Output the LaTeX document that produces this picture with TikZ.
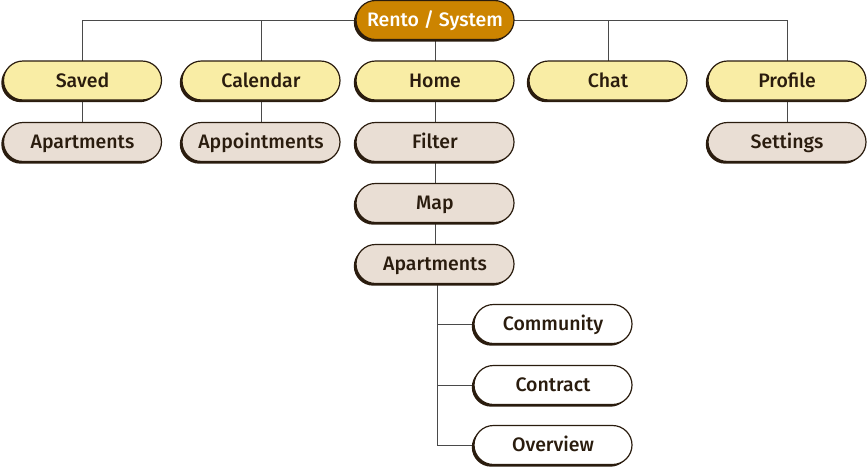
\documentclass[tikz,border=0pt]{standalone}
\usepackage{fontspec}
\IfFontExistsTF{Fira Sans Medium}{\setmainfont{Fira Sans Medium}}{\setmainfont{Fira Sans}}
\usetikzlibrary{shadows}
\definecolor{rootc}{HTML}{CC8400}
\definecolor{yel}{HTML}{F9EDA5}
\definecolor{beige}{HTML}{E9DED4}
\definecolor{edge}{HTML}{2A1C0E}
\definecolor{txt}{HTML}{2A1C0E}
\definecolor{wire}{HTML}{4A4A4A}
\tikzset{
  pill/.style={draw=edge, line width=1.2pt, rounded corners=19.5pt,
    minimum width=158pt, minimum height=39pt, inner sep=0pt,
    text height=17pt, text depth=3.6pt,
    font=\fontsize{19.5}{22}\selectfont, text=txt,
    drop shadow={shadow xshift=-2.2pt, shadow yshift=-2.2pt, opacity=1, fill=edge}},
  rootbox/.style={pill, fill=rootc, text=white},
  topbox/.style={pill, fill=yel},
  subbox/.style={pill, fill=beige},
  leafbox/.style={pill, fill=white},
  wireline/.style={draw=wire, line width=0.9pt}
}
\begin{document}
\begin{tikzpicture}[x=1pt,y=-1pt]
\useasboundingbox (0,0) rectangle (868,469);
% connectors first
\coordinate (L) at (82.5,20);
\coordinate (R) at (787,20);
\coordinate (cal) at (261,20);
\coordinate (cht) at (608,20);
\draw[wireline] (L) -- (R);
\draw[wireline] (L) -- (82.5,80.5);
\draw[wireline] (cal) -- (261,80.5);
\draw[wireline] (cht) -- (608,80.5);
\draw[wireline] (R) -- (787,80.5);
\draw[wireline] (82.5,80.5) -- (82.5,142);
\draw[wireline] (261,80.5) -- (261,142);
\draw[wireline] (787,80.5) -- (787,142);
\draw[wireline] (435,20) -- (435,264);
\coordinate (T) at (437,264);
\coordinate (B) at (437,445);
\draw[wireline] (T) -- (B);
\draw[wireline] (437,324) -- (553,324);
\draw[wireline] (437,385) -- (553,385);
\draw[wireline] (B) -- (553,445);
% nodes
\node[rootbox] (root) at (435,20) {Rento / System};
\node[topbox] (saved) at (82.5,80.5) {Saved};
\node[topbox] (calendar) at (261,80.5) {Calendar};
\node[topbox] (home) at (435,80.5) {Home};
\node[topbox] (chat) at (608,80.5) {Chat};
\node[topbox] (profile) at (787,80.5) {Profile};
\node[subbox] (apt1) at (82.5,142) {Apartments};
\node[subbox] (appt) at (261,142) {Appointments};
\node[subbox] (filter) at (435,142) {Filter};
\node[subbox] (settings) at (787,142) {Settings};
\node[subbox] (map) at (435,203) {Map};
\node[subbox] (apt2) at (435,264) {Apartments};
\node[leafbox] (comm) at (553,324) {Community};
\node[leafbox] (contract) at (553,385) {Contract};
\node[leafbox] (overview) at (553,445) {Overview};
\end{tikzpicture}
\end{document}
